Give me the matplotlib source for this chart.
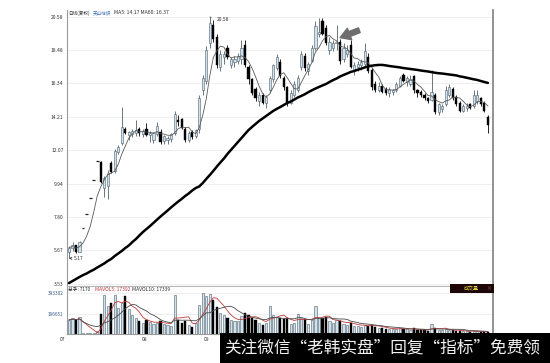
import matplotlib
matplotlib.use('Agg')
import matplotlib.pyplot as plt
import matplotlib.transforms as mtransforms
from matplotlib.patches import Rectangle
import numpy as np
import pandas as pd

plt.rcParams['font.family'] = ['Noto Sans CJK SC', 'DejaVu Sans']

# ---------------- data ----------------
opens = [5.60, 5.85, 6.00, 5.60, 7.10, 8.00, 9.02, 10.17, 11.38, 11.30,
         9.65, 9.80, 11.25, 10.75, 11.95, 12.55, 13.45, 13.05, 13.10, 13.20,
         13.40, 13.10, 13.40, 13.05, 12.70, 13.10, 13.25, 12.65, 12.70, 12.80,
         13.15, 14.00, 14.05, 13.40, 12.75, 13.25, 12.95, 13.40, 15.90, 16.50,
         18.90, 20.10, 19.30, 17.40, 18.00, 18.60, 17.50, 17.70, 17.80, 17.90,
         18.80, 17.40, 16.60, 16.00, 15.20, 15.60, 15.10, 15.90, 16.60, 17.30,
         17.70, 16.70, 16.10, 15.10, 15.60, 15.95, 17.40, 18.10, 17.10, 17.80,
         18.60, 19.50, 20.30, 19.90, 18.50, 18.60, 18.90, 19.00, 17.90, 18.20,
         18.80, 17.20, 17.40, 17.50, 17.60, 18.00, 17.20, 16.30, 15.90, 16.20,
         16.00, 15.70, 15.80, 15.90, 16.20, 16.90, 16.40, 16.30, 16.80, 15.90,
         15.80, 15.60, 15.40, 15.30, 15.60, 14.50, 14.70, 15.00, 15.60, 16.00,
         15.50, 15.10, 14.60, 14.80, 15.00, 14.90, 15.20, 15.40, 15.10, 14.20]
highs = [5.95, 6.20, 6.05, 6.25, 7.10, 8.00, 9.02, 10.17, 11.38, 11.40,
         10.40, 10.80, 11.40, 12.15, 12.40, 14.83, 13.55, 13.30, 13.40, 14.00,
         13.55, 13.45, 13.80, 13.30, 13.25, 13.90, 13.40, 13.05, 13.00, 13.20,
         14.60, 14.30, 14.15, 13.55, 13.30, 13.35, 13.45, 15.60, 16.90, 18.70,
         20.58, 20.40, 19.50, 18.50, 18.40, 18.80, 18.00, 18.10, 18.30, 19.10,
         19.10, 17.50, 16.70, 16.10, 15.80, 15.70, 15.60, 16.80, 17.60, 18.20,
         17.90, 16.80, 16.20, 15.90, 16.50, 16.90, 18.40, 18.30, 17.70, 18.80,
         20.30, 20.50, 20.50, 20.10, 19.30, 19.10, 20.10, 19.20, 18.90, 18.80,
         19.10, 17.70, 17.80, 17.90, 18.90, 18.30, 17.30, 16.50, 16.40, 16.30,
         16.10, 16.10, 16.00, 16.40, 16.80, 17.00, 16.80, 16.90, 16.90, 16.00,
         15.90, 15.70, 15.50, 17.20, 15.70, 15.10, 15.00, 16.20, 16.30, 16.10,
         15.60, 15.20, 15.00, 15.10, 15.10, 15.90, 15.90, 15.50, 15.20, 14.30]
lows = [5.17, 5.65, 5.50, 5.55, 7.10, 8.00, 9.02, 10.17, 11.38, 10.00,
        9.10, 8.95, 10.60, 10.60, 11.80, 12.40, 13.10, 12.70, 12.90, 13.00,
        13.00, 12.90, 12.95, 12.60, 12.55, 13.00, 12.50, 12.45, 12.50, 12.60,
        13.05, 13.60, 13.40, 12.60, 12.60, 12.80, 12.85, 13.20, 15.60, 16.30,
        18.60, 19.00, 17.30, 17.10, 17.60, 17.90, 17.30, 17.40, 17.60, 17.60,
        17.40, 16.30, 15.60, 15.20, 14.90, 15.00, 14.80, 15.70, 16.40, 17.20,
        16.70, 15.90, 14.90, 15.00, 15.50, 15.80, 17.20, 17.10, 16.90, 17.70,
        18.50, 19.30, 19.40, 18.80, 18.20, 18.40, 18.50, 17.60, 17.70, 18.00,
        17.30, 16.90, 17.10, 17.20, 17.40, 17.00, 15.90, 15.80, 15.80, 15.70,
        15.60, 15.50, 15.60, 15.80, 16.10, 16.40, 16.20, 16.20, 15.70, 15.50,
        15.50, 15.30, 15.10, 15.20, 14.40, 14.30, 14.50, 14.90, 15.50, 15.30,
        14.90, 14.50, 14.50, 14.60, 14.70, 14.80, 15.00, 14.90, 14.50, 13.20]
closes = [5.85, 6.00, 5.60, 6.20, 7.10, 8.00, 9.02, 10.17, 11.38, 10.05,
          10.30, 10.65, 10.70, 12.00, 12.25, 13.55, 13.20, 13.25, 13.30, 13.35,
          13.15, 13.30, 13.05, 13.20, 13.15, 13.60, 12.60, 12.95, 12.85, 13.10,
          14.40, 13.90, 13.50, 12.70, 13.20, 12.90, 13.35, 15.40, 16.70, 18.50,
          20.20, 19.20, 17.50, 18.20, 18.20, 18.00, 17.90, 17.90, 18.10, 18.60,
          17.50, 16.60, 15.75, 15.40, 15.60, 15.10, 15.50, 16.70, 17.50, 18.00,
          16.80, 16.10, 15.10, 15.70, 16.30, 16.70, 18.20, 17.30, 17.60, 18.60,
          20.00, 19.60, 19.50, 18.90, 19.00, 18.90, 19.00, 17.80, 18.60, 18.50,
          17.40, 17.50, 17.60, 17.70, 18.40, 17.10, 16.10, 15.90, 16.20, 15.80,
          15.70, 16.00, 15.90, 16.30, 16.70, 16.50, 16.70, 16.60, 15.90, 15.70,
          15.60, 15.40, 15.20, 15.80, 14.50, 15.00, 14.90, 15.90, 16.10, 15.40,
          15.00, 14.60, 14.90, 14.90, 14.80, 15.60, 15.60, 15.00, 14.60, 13.70]
ma60 = [3.59, 3.72, 3.85, 3.98, 4.10, 4.20, 4.33, 4.44, 4.58, 4.71,
        4.84, 5.00, 5.13, 5.32, 5.48, 5.64, 5.83, 5.99, 6.21, 6.40,
        6.63, 6.85, 7.04, 7.23, 7.43, 7.64, 7.84, 8.03, 8.22, 8.42,
        8.61, 8.79, 8.96, 9.15, 9.31, 9.50, 9.66, 9.76, 9.98, 10.24,
        10.49, 10.75, 11.03, 11.29, 11.54, 11.83, 12.09, 12.34, 12.60, 12.85,
        13.11, 13.36, 13.56, 13.75, 13.94, 14.10, 14.26, 14.42, 14.58, 14.71,
        14.83, 14.96, 15.09, 15.18, 15.31, 15.44, 15.54, 15.65, 15.78, 15.90,
        16.01, 16.11, 16.21, 16.30, 16.43, 16.55, 16.65, 16.78, 16.88, 16.97,
        17.07, 17.13, 17.21, 17.28, 17.36, 17.42, 17.47, 17.50, 17.52, 17.52,
        17.49, 17.45, 17.42, 17.39, 17.36, 17.32, 17.29, 17.26, 17.23, 17.20,
        17.16, 17.13, 17.10, 17.06, 17.02, 16.99, 16.97, 16.94, 16.91, 16.88,
        16.85, 16.79, 16.75, 16.70, 16.65, 16.60, 16.56, 16.49, 16.43, 16.37]
volumes = [135000, 150000, 130000, 165000, 8000, 6000, 7000, 10000, 25000, 190000,
           370000, 270000, 300000, 370000, 250000, 300000, 360000, 240000, 180000, 150000,
           120000, 110000, 130000, 115000, 95000, 110000, 120000, 100000, 90000, 80000,
           370000, 130000, 110000, 120000, 90000, 70000, 110000, 280000, 390000, 360000,
           380000, 330000, 260000, 200000, 180000, 150000, 130000, 120000, 120000, 170000,
           200000, 180000, 150000, 130000, 110000, 90000, 110000, 270000, 180000, 160000,
           150000, 140000, 150000, 100000, 110000, 190000, 150000, 140000, 100000, 130000,
           270000, 150000, 150000, 160000, 120000, 110000, 130000, 120000, 100000, 90000,
           110000, 80000, 75000, 70000, 90000, 80000, 90000, 70000, 60000, 55000,
           50000, 50000, 45000, 50000, 55000, 50000, 45000, 40000, 55000, 40000,
           35000, 35000, 30000, 100000, 60000, 40000, 35000, 45000, 40000, 35000,
           30000, 30000, 28000, 25000, 22000, 30000, 25000, 22000, 18000, 15000]
price_ticks = [3.53, 5.67, 7.80, 9.94, 12.07, 14.21, 16.34, 18.48, 20.58]
price_tick_labels = ['3.53', '5.67', '7.80', '9.94', '12.07', '14.21', '16.34', '18.48', '20.58']
vol_ticks = [196651, 393302]
vol_tick_labels = ['196651', '393302']
month_labels = ['07', '08', '09']
month_pos = [-1.85, 21.6, 39.0]

# ---------------- figure ----------------
W, H = 550, 363
fig = plt.figure(figsize=(5.5, 3.63), dpi=100)
fig.patch.set_facecolor('white')


def fx(px):
    return px / W


def fy(py):
    return 1 - py / H


ax = fig.add_axes([fx(67), fy(285.5), fx(493) - fx(67), fy(10) - fy(285.5)])
axv = fig.add_axes([fx(67), fy(334), fx(493) - fx(67), fy(287) - fy(334)])

o = np.array(opens)
h = np.array(highs)
l = np.array(lows)
c = np.array(closes)
v = np.array(volumes)
N = len(c)
idx = np.arange(N)
up = c >= o
doji = h == l

UPFACE = '#cfe3ef'
UPEDGE = '#4f606c'

# wicks
for i in range(N):
    if doji[i]:
        ax.hlines(c[i], i - 0.4, i + 0.4, color='#222222', lw=0.9, zorder=3)
    else:
        ax.vlines(i, l[i], h[i], color=UPEDGE if up[i] else 'black', lw=0.6, zorder=2)

m_up = up & ~doji
m_dn = ~up
body_up = np.maximum(c - o, 0.06)
body_dn = np.maximum(o - c, 0.06)
ax.bar(idx[m_up], body_up[m_up], bottom=o[m_up], width=0.62, color=UPFACE,
       edgecolor=UPEDGE, lw=0.4, zorder=3)
ax.bar(idx[m_dn], body_dn[m_dn], bottom=c[m_dn], width=0.62, color='black',
       edgecolor='black', lw=0.3, zorder=3)

ma5 = pd.Series(c).rolling(5, min_periods=1).mean()
ax.plot(idx, ma5, color='#5a5a5a', lw=0.6, zorder=4)
ax.plot(idx, ma60, color='black', lw=1.8, zorder=5, solid_capstyle='round')

ax.set_xlim(-0.57, 120.45)
ax.set_ylim(3.434, 21.027)
ax.set_yticks(price_ticks)
ax.set_yticklabels(price_tick_labels)
ax.set_xticks([])
ax.tick_params(axis='y', length=0, pad=2.5, labelsize=3.6, labelcolor='#333333')
ax.yaxis.grid(True, color='#ececec', lw=0.6)
ax.set_axisbelow(True)
ax.spines['top'].set_visible(False)
ax.spines['left'].set_color('#9a9a9a')
ax.spines['left'].set_linewidth(0.8)
ax.spines['right'].set_color('#8a8a8a')
ax.spines['right'].set_linewidth(1.3)
ax.spines['bottom'].set_color('#b4b4b4')
ax.spines['bottom'].set_linewidth(0.8)

# annotations
ax.annotate('20.58', xy=(40, 20.58), xytext=(7, -3), textcoords='offset pixels',
            fontsize=3.6, color='#333333', ha='left', va='center',
            arrowprops=dict(arrowstyle='-', color='#333333', lw=0.5))
ax.annotate('5.17', xy=(0, 5.17), xytext=(5, 0), textcoords='offset pixels',
            fontsize=3.6, color='#333333', ha='left', va='center',
            arrowprops=dict(arrowstyle='->', color='#333333', lw=0.5,
                            mutation_scale=4))
ax.annotate('', xy=(76.3, 19.2), xytext=(83.2, 19.8),
            arrowprops=dict(arrowstyle='simple,head_width=1.1,head_length=0.9,tail_width=0.45',
                            color='#6e6e6e', mutation_scale=8), zorder=6)

# titles of price panel
fig.text(fx(68), fy(13), '日线(复权)', fontsize=3.3, color='#333333', va='center', ha='left')
fig.text(fx(93), fy(13), '天山纺织', fontsize=3.3, color='#3a6db5', va='center', ha='left')
fig.text(fx(114), fy(13), 'MA5: 14.17 MA60: 16.37', fontsize=3.7, color='#333333',
         va='center', ha='left')

# ---------------- volume panel ----------------
axv.bar(idx[up], v[up], width=0.62, color=UPFACE, edgecolor=UPEDGE, lw=0.4, zorder=3)
axv.bar(idx[~up], v[~up], width=0.62, color='black', edgecolor='black', lw=0.3, zorder=3)
mv5 = pd.Series(v).rolling(5, min_periods=1).mean()
mv10 = pd.Series(v).rolling(10, min_periods=1).mean()
axv.plot(idx, mv5, color='#c03a3a', lw=0.6, zorder=4)
axv.plot(idx, mv10, color='#4a4a4a', lw=0.6, zorder=4)
axv.set_xlim(-0.57, 120.45)
axv.set_ylim(0, 450900)
axv.set_yticks(vol_ticks)
axv.set_yticklabels(vol_tick_labels)
axv.set_xticks([])
axv.tick_params(axis='y', length=0, pad=2.5, labelsize=3.4, labelcolor='#3b5a8a')
axv.yaxis.grid(True, color='#ececec', lw=0.6)
axv.set_axisbelow(True)
axv.spines['top'].set_visible(False)
axv.spines['left'].set_color('#9a9a9a')
axv.spines['left'].set_linewidth(0.8)
axv.spines['right'].set_color('#8a8a8a')
axv.spines['right'].set_linewidth(1.3)
axv.spines['bottom'].set_color('#9a9a9a')
axv.spines['bottom'].set_linewidth(0.8)

trans = mtransforms.blended_transform_factory(axv.transData, axv.transAxes)
for lab, pos in zip(month_labels, month_pos):
    axv.text(pos, -0.07, lab, transform=trans, fontsize=3.6, color='#333333',
             ha='center', va='top', clip_on=False)

fig.text(fx(68), fy(289.5), '总手: 7170', fontsize=3.4, color='#333333', va='center', ha='left')
fig.text(fx(95), fy(289.5), 'MAVOL5: 17392', fontsize=3.6, color='#c03a3a', va='center', ha='left')
fig.text(fx(132), fy(289.5), 'MAVOL10: 17339', fontsize=3.6, color='#333333', va='center', ha='left')

# "成交量" button
fig.patches.append(Rectangle((fx(450), fy(293)), fx(494) - fx(450), fy(284) - fy(293),
                             transform=fig.transFigure, facecolor='#1c0606',
                             edgecolor='none', zorder=5))
fig.text(fx(471), fy(288.5), '成交量', fontsize=3.6, color='#e8d23a', va='center',
         ha='center', zorder=6)
fig.text(fx(489), fy(288.5), '×', fontsize=3.6, color='#d05a7a', va='center',
         ha='center', zorder=6)

# watermark band
fig.patches.append(Rectangle((fx(220), 0), 1 - fx(220), fy(333),
                             transform=fig.transFigure, facecolor='black',
                             edgecolor='none', zorder=10))
fig.text(fx(382), fy(348.5), '关注微信“老韩实盘”回复“指标”免费领', fontsize=12,
         color='#f2f2f2', va='center', ha='center', zorder=11)

fig.savefig('out.png', dpi=100)
